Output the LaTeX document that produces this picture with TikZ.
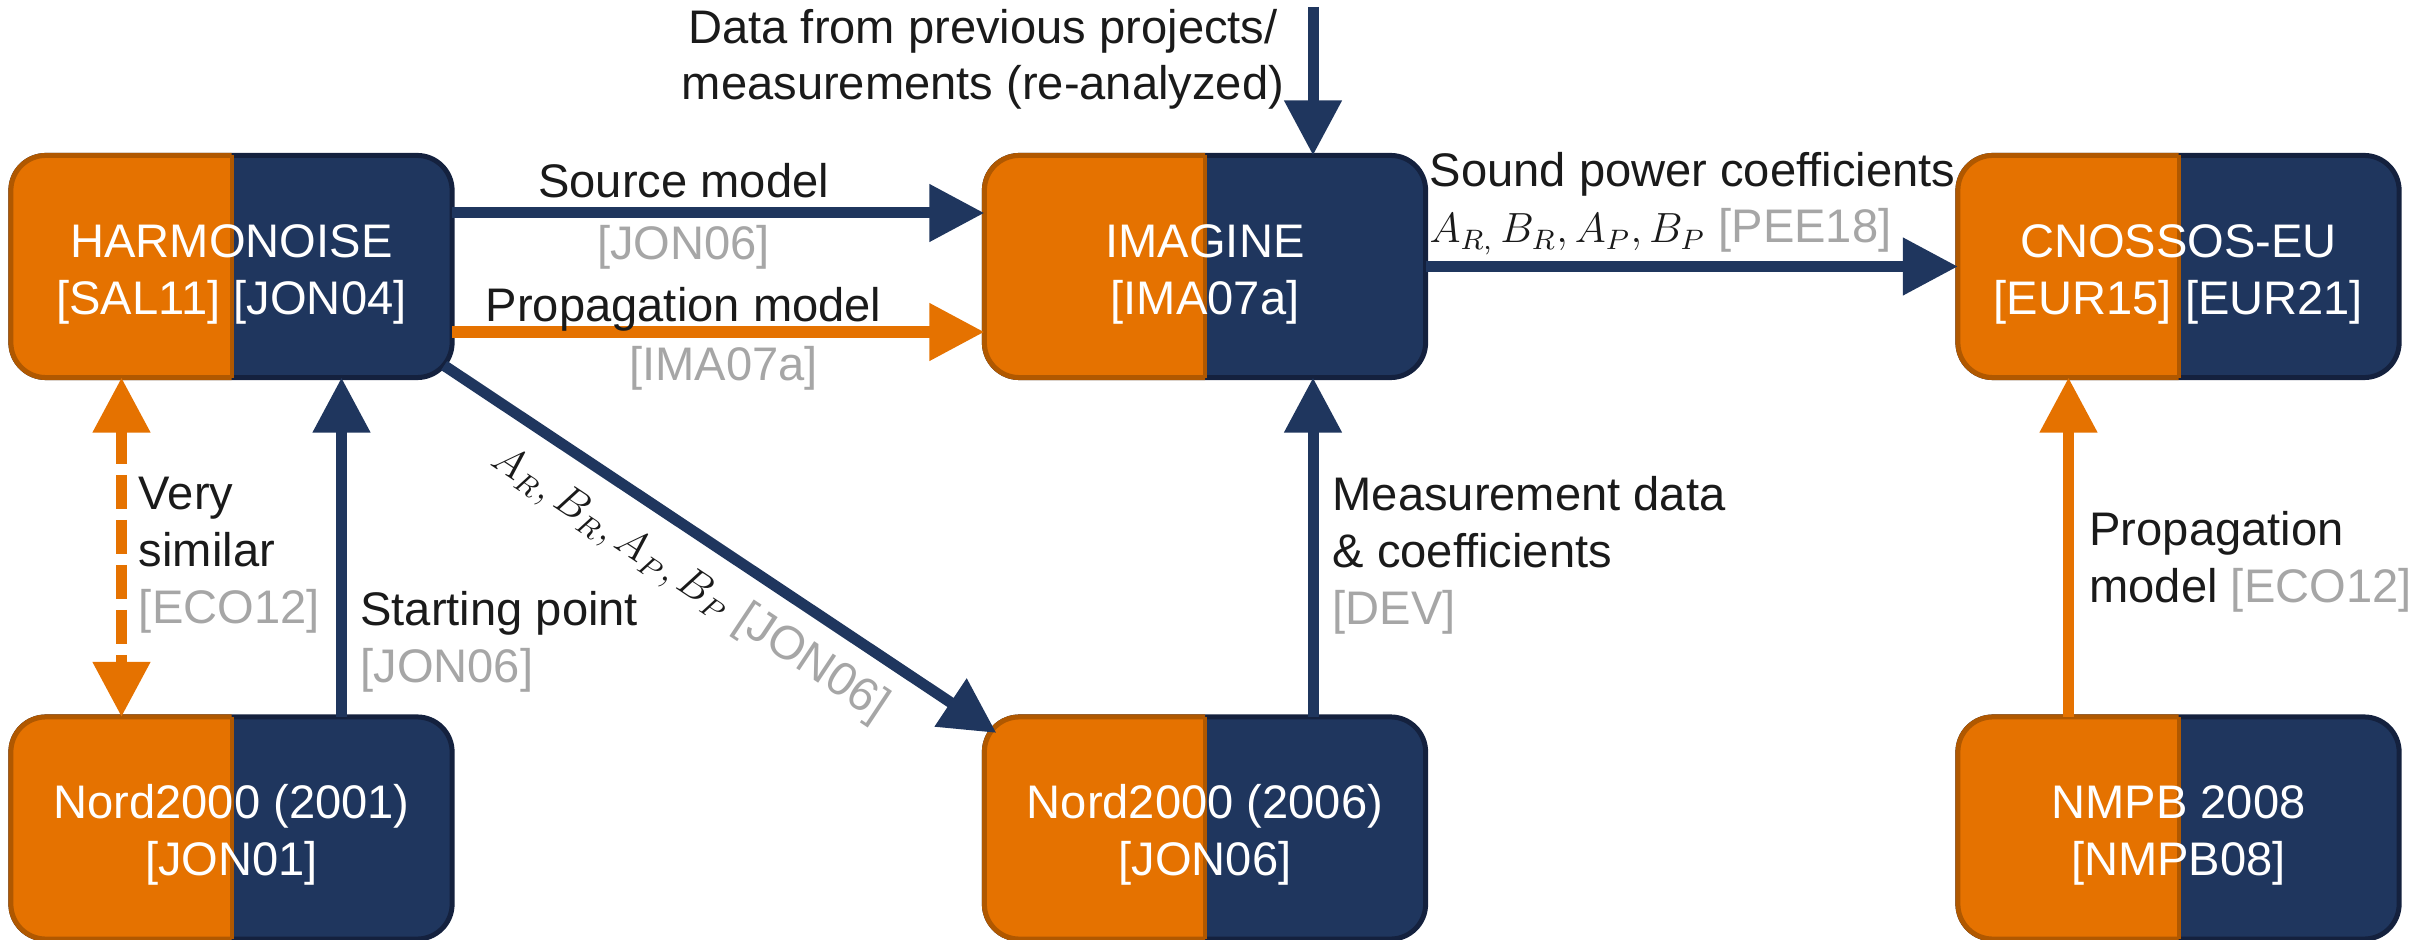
\documentclass[tikz,border=0pt]{standalone}
\usepackage{fontspec}
\setmainfont{Liberation Sans}
\usetikzlibrary{arrows.meta,backgrounds}

\definecolor{orangeM}{RGB}{229,114,0}
\definecolor{orangeE}{RGB}{176,88,0}
\definecolor{navyM}{RGB}{31,54,94}
\definecolor{navyE}{RGB}{20,33,62}
\definecolor{refgrey}{RGB}{166,166,166}
\definecolor{txt}{RGB}{26,26,26}

\tikzset{
  model/.style={minimum width=4.41cm, minimum height=2.22cm, inner sep=0pt, outer sep=0pt, text=white, align=center,
    text height=1.15cm, text depth=0.2cm},
  navyarrow/.style={draw=navyM, line width=0.11cm, -{Triangle[length=0.55cm,width=0.55cm]}},
  orangearrow/.style={draw=orangeM, line width=0.11cm, -{Triangle[length=0.55cm,width=0.55cm]}},
  lbl/.style={text=txt, inner sep=0pt, align=left},
}
\newcommand{\coef}[1]{{\fontsize{11.5}{14}\selectfont$#1$}}

\begin{document}
\begin{tikzpicture}[x=0.01cm,y=-0.01cm]
{\fontsize{13.4}{16.2}\selectfont
  \useasboundingbox (0,0) rectangle (2433,940);

  % models
  \node[model] (harm)  at (231.5,266.5)  {HARMONOISE\\{}[SAL11] [JON04]};
  \node[model] (imag)  at (1205,266.5)   {IMAGINE\\{}[IMA07a]};
  \node[model] (cnos)  at (2178.5,266.5) {CNOSSOS-EU\\{}[EUR15] [EUR21]};
  \node[model] (nordA) at (231.5,828)    {Nord2000 (2001)\\{}[JON01]};
  \node[model] (nordB) at (1205,828)     {Nord2000 (2006)\\{}[JON06]};
  \node[model] (nmpb)  at (2178.5,828)   {NMPB 2008\\{}[NMPB08]};

  \begin{scope}[on background layer]
  \foreach \m in {harm,imag,cnos,nordA,nordB,nmpb}{
    \filldraw[fill=navyM, draw=navyE, line width=0.05cm, rounded corners=0.35cm] (\m.south west) rectangle (\m.north east);
    \begin{scope}
      \clip ([shift={(-10,10)}]\m.south west) rectangle ([shift={(0,-10)}]\m.north);
      \filldraw[fill=orangeM, draw=orangeE, line width=0.05cm, rounded corners=0.35cm] (\m.south west) rectangle (\m.north east);
    \end{scope}
    \draw[orangeE, line width=0.04cm] (\m.north) -- (\m.south);
  }
  \end{scope}

  % top row
  \draw[navyarrow] ([shift={(0,-53.5)}]harm.east) -- ([shift={(0,-53.5)}]imag.west)
    node[lbl, pos=0.435, anchor=base, yshift=4.3pt] (srcT) {Source model}
    node[lbl, pos=0.435, anchor=base, yshift=-13.1pt, text=refgrey] (srcR) {[JON06]};
  \draw[orangearrow] ([shift={(0,65.5)}]harm.east) -- ([shift={(0,65.5)}]imag.west)
    node[lbl, pos=0.435, anchor=base, yshift=3.1pt] (propT) {Propagation model}
    node[lbl, pos=0.51, anchor=base, yshift=-13.7pt, text=refgrey] (propR) {[IMA07a]};

  \coordinate (prevTop) at (1313,7);
  \node[lbl, align=center, anchor=base] (prev) at (983,100) {Data from previous projects/\\measurements (re-analyzed)};
  \draw[navyarrow] (prevTop) -- ([shift={(108,0)}]imag.north);

  \draw[navyarrow] (imag.east) -- (cnos.west);
  \node[lbl, anchor=base west] (sound) at (1429,243) {Sound power coefficients\\\coef{A_{R,}\,B_R, A_P, B_P} \textcolor{refgrey}{[PEE18]}};

  % bottom row
  \draw[orangeM, line width=0.11cm, dash pattern=on 0.34cm off 0.11cm, {Triangle[length=0.55cm,width=0.55cm]}-{Triangle[length=0.55cm,width=0.55cm]}]
    ([shift={(-110,0)}]harm.south) -- ([shift={(-110,0)}]nordA.north)
    node[lbl, midway, anchor=west, xshift=3.4pt, yshift=-2.3pt] (simT) {Very\\similar\\\textcolor{refgrey}{[ECO12]}};
  \draw[navyarrow] ([shift={(110,0)}]nordA.north) -- ([shift={(110,0)}]harm.south)
    node[lbl, pos=0.22, anchor=west, xshift=3.8pt] (startT) {Starting point\\\textcolor{refgrey}{[JON06]}};
  \draw[navyarrow] ([shift={(-8,-12)}]harm.south east) -- ([shift={(12,16)}]nordB.north west)
    node[lbl, pos=0.49, sloped, below=5pt] (coefT) {\coef{A_R, B_R, A_P, B_P} \textcolor{refgrey}{[JON06]}};
  \draw[navyarrow] ([shift={(108,0)}]nordB.north) -- ([shift={(108,0)}]imag.south)
    node[lbl, pos=0.475, anchor=west, xshift=4pt] (measT) {Measurement data\\\& coefficients\\\textcolor{refgrey}{[DEV]}};
  \draw[orangearrow] ([shift={(-110,0)}]nmpb.north) -- ([shift={(-110,0)}]cnos.south)
    node[lbl, pos=0.456, anchor=west, xshift=4.4pt] (nmpbT) {Propagation\\model \textcolor{refgrey}{[ECO12]}};
}
\end{tikzpicture}
\end{document}
